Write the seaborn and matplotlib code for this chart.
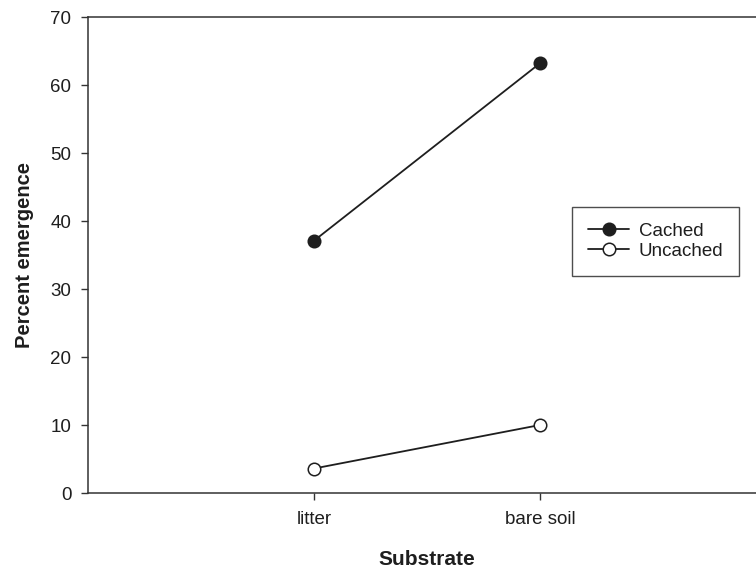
import matplotlib
matplotlib.use("Agg")
import matplotlib.pyplot as plt
import seaborn as sns
import pandas as pd

substrates = ["litter", "bare soil"]
cached = [37.1, 63.2]
uncached = [3.6, 10.0]
series_names = ["Cached", "Uncached"]
yticks = [0, 10, 20, 30, 40, 50, 60, 70]

sns.set_theme(style="white")
plt.rcParams["font.family"] = ["Liberation Sans", "DejaVu Sans"]

df = pd.DataFrame({
    "substrate": substrates * 2,
    "emergence": cached + uncached,
    "group": [series_names[0]] * 2 + [series_names[1]] * 2,
})

fig = plt.figure(figsize=(7.56, 5.76), dpi=100)
ax = fig.add_axes([88 / 756, 83 / 576, 3 * 226 / 756, 476 / 576])

ink = "#1e1e1e"
faces = {"Cached": ink, "Uncached": "white"}
for name in series_names:
    sub = df[df["group"] == name]
    sns.lineplot(data=sub, x="substrate", y="emergence", ax=ax, color=ink,
                 marker="o", markersize=9, markerfacecolor=faces[name],
                 markeredgecolor=ink, markeredgewidth=1.1, linewidth=1.3,
                 label=name)

ax.set_xlim(-1, 2)
ax.set_ylim(0, 70)
ax.set_yticks(yticks)
ax.spines["right"].set_visible(False)
for s in ["left", "top", "bottom"]:
    ax.spines[s].set_color("#333333")
    ax.spines[s].set_linewidth(1.1)
ax.tick_params(axis="both", direction="out", length=5, width=1, color="#333333",
               labelsize=13.5, labelcolor=ink, left=True, bottom=True)
ax.tick_params(axis="x", pad=8)
ax.tick_params(axis="y", pad=7)
ax.set_xlabel("Substrate", fontsize=15, fontweight="bold", color=ink, labelpad=16)
ax.set_ylabel("Percent emergence", fontsize=14.5, fontweight="bold", color=ink, labelpad=12)

leg = ax.legend(loc="upper left", bbox_to_anchor=(0.714, 0.601), borderaxespad=0,
                frameon=True, fancybox=False, fontsize=13.5, handlelength=2.2,
                handletextpad=0.5, labelspacing=0.15, borderpad=0.85)
leg.get_frame().set_edgecolor("#222222")
leg.get_frame().set_linewidth(1.0)
for t in leg.get_texts():
    t.set_color(ink)

fig.savefig("out.png", dpi=100)
